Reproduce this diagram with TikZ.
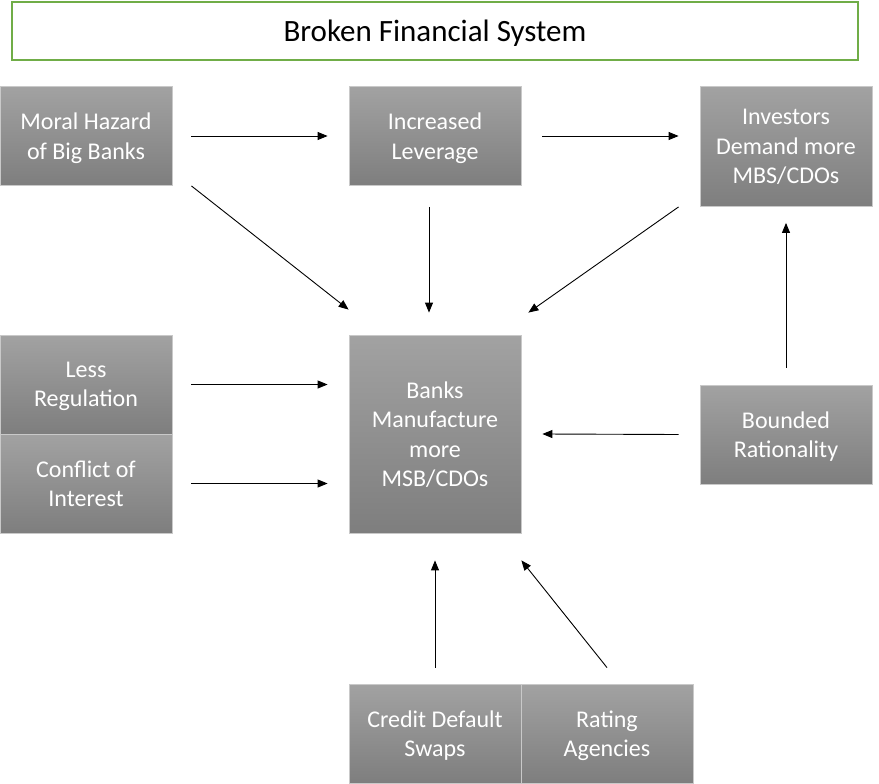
\documentclass[tikz,border=0pt]{standalone}
\usepackage{fontspec}
\setmainfont{Carlito}
\usetikzlibrary{arrows.meta}
\definecolor{boxtop}{HTML}{A2A2A2}
\definecolor{boxbot}{HTML}{7E7E7E}
\definecolor{boxline}{HTML}{C9C9C9}
\definecolor{titleline}{HTML}{70AD47}
\begin{document}
\begin{tikzpicture}[x=1pt,y=-1pt,
    causebox/.style={draw=boxline,line width=0.8pt,top color=boxtop,bottom color=boxbot,
      minimum width=172pt,minimum height=99pt,align=center,text depth=0pt,
      text=white,font=\fontsize{24}{29.5}\selectfont,inner sep=0pt},
    titlebox/.style={draw=titleline,line width=1.2pt,minimum width=846pt,minimum height=58pt,
      text depth=0pt,font=\fontsize{31}{37}\selectfont},
    link/.style={-{Triangle[length=10pt,width=8pt]},line width=0.9pt}]
      \useasboundingbox (0,0) rectangle (879,784);

      \node[titlebox] (title) at (435,31) {Broken Financial System};

      \node[causebox] (mh) at (86,136) {Moral Hazard\\of Big Banks};
      \node[causebox] (il) at (435,136) {Increased\\Leverage};
      \node[causebox,minimum height=120pt] (inv) at (786,146.5) {Investors\\Demand more\\MBS/CDOs};
      \node[causebox,minimum height=198pt] (banks) at (435,434) {Banks\\Manufacture\\more\\MSB/CDOs};
      \node[causebox] (lr) at (86,384.5) {Less\\Regulation};
      \node[causebox] (coi) at (86,483.5) {Conflict of\\Interest};
      \node[causebox] (br) at (786,434.5) {Bounded\\Rationality};
      \node[causebox] (cds) at (435,733.5) {Credit Default\\Swaps};
      \node[causebox] (ra) at (607,733.5) {Rating\\Agencies};

      \draw[link] ([xshift=19pt]mh.east) -- ([xshift=-21pt]il.west);
      \draw[link] ([xshift=21pt]il.east) -- ([xshift=-21pt]inv.west |- il.east);
      \draw[link] ([xshift=19pt]mh.south east) -- ([yshift=25pt]banks.north west);
      \draw[link] ([xshift=-6pt,yshift=-21pt]il.south) -- ([xshift=-6pt,yshift=22pt]banks.north);
      \draw[link] ([xshift=-21pt]inv.south west) -- ([xshift=7pt,yshift=22pt]banks.north east);
      \draw[link] ([xshift=19pt]lr.east) -- ([xshift=-21pt]banks.west |- lr.east);
      \draw[link] ([xshift=19pt]coi.east) -- ([xshift=-21pt]banks.west |- coi.east);
      \draw[link] ([xshift=-21pt]br.west) -- ([xshift=21pt]banks.east);
      \draw[link] ([yshift=17pt]br.north) -- ([yshift=-16pt]inv.south);
      \draw[link] ([yshift=16pt]cds.north) -- ([yshift=-27pt]banks.south);
      \draw[link] ([yshift=16pt]ra.north) -- ([yshift=-27pt]banks.south east);

\end{tikzpicture}
\end{document}
